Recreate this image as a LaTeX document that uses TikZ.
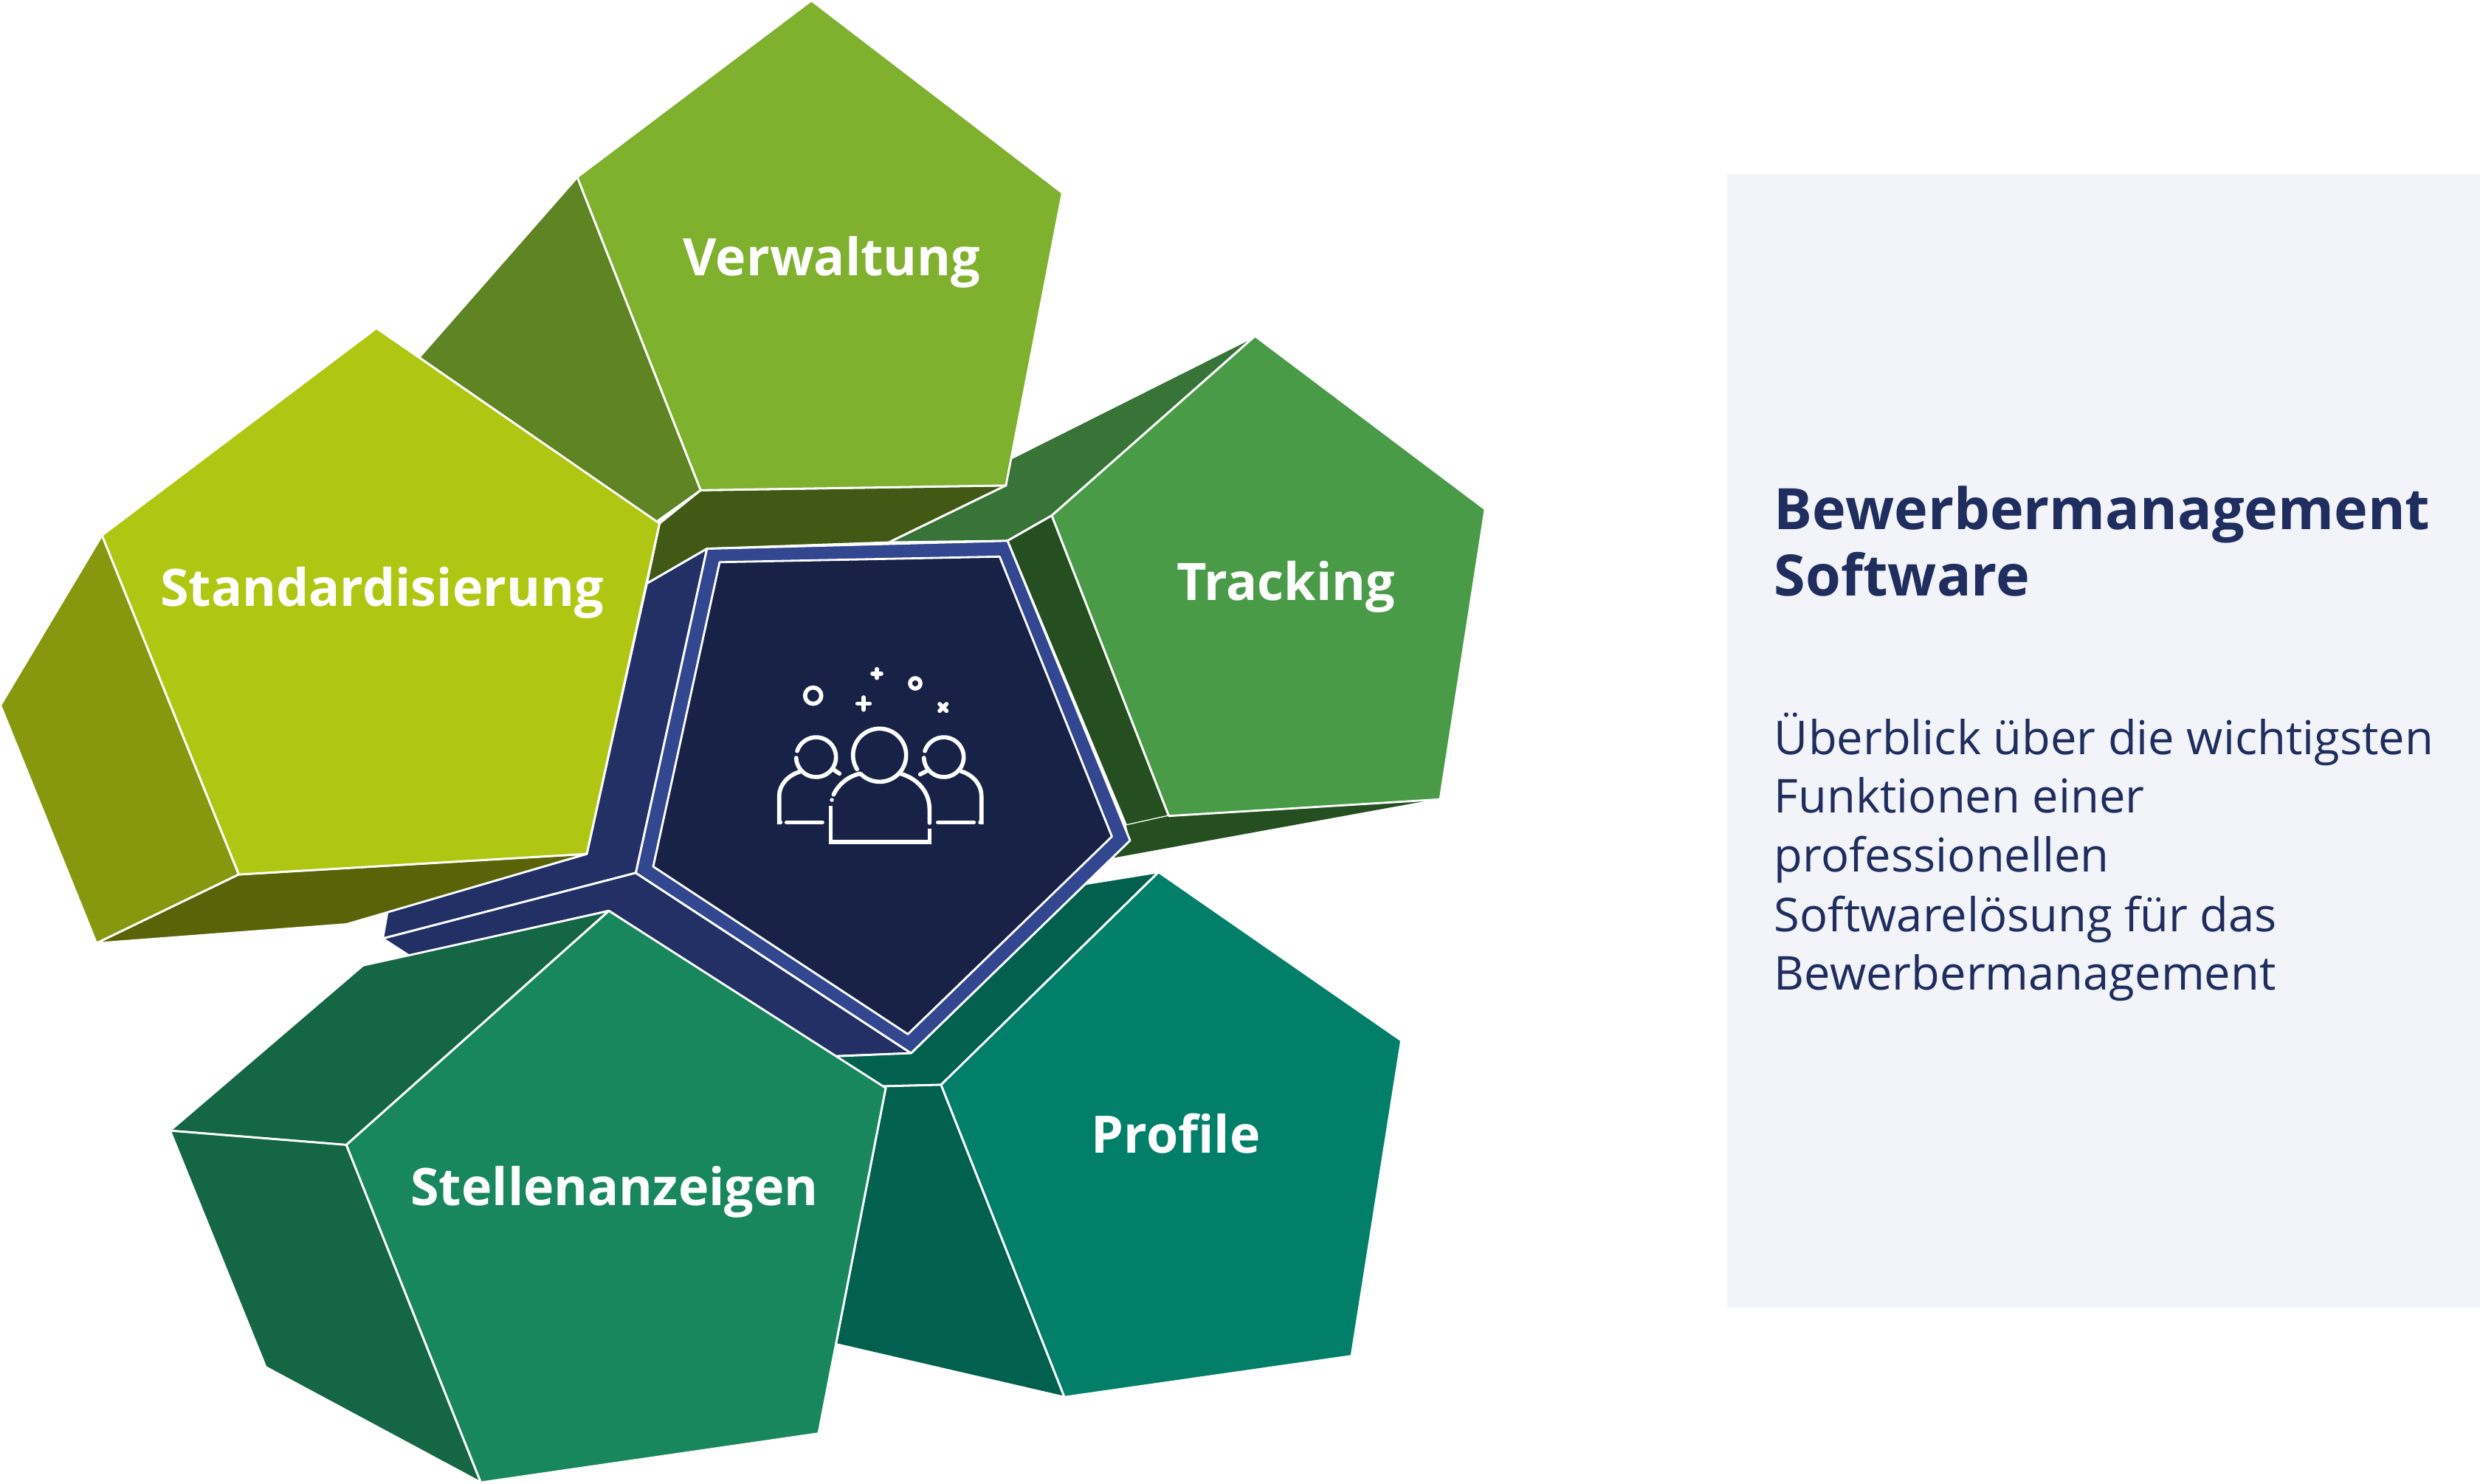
\documentclass[tikz,border=0pt]{standalone}
\usepackage{fontspec}
\setmainfont{Open Sans}
\definecolor{verwFront}{HTML}{7FB02E}
\definecolor{verwLeft}{HTML}{5F8423}
\definecolor{verwLow}{HTML}{425916}
\definecolor{stanFront}{HTML}{AFC712}
\definecolor{stanLeft}{HTML}{87980F}
\definecolor{stanLow}{HTML}{5A6308}
\definecolor{trackFront}{HTML}{4A9B48}
\definecolor{trackTop}{HTML}{387337}
\definecolor{trackLow}{HTML}{254F20}
\definecolor{stelFront}{HTML}{19875D}
\definecolor{stelSide}{HTML}{146645}
\definecolor{profFront}{HTML}{017F69}
\definecolor{profSide}{HTML}{02604F}
\definecolor{hubFront}{HTML}{182247}
\definecolor{hubRim}{HTML}{32478F}
\definecolor{hubSide}{HTML}{233066}
\definecolor{titleInk}{HTML}{1F2D5F}
\definecolor{panelBack}{HTML}{F2F4F9}
\tikzset{
  face/.style={draw=white, line width=0.8pt, line join=round},
  tilelabel/.style={text=white, font=\fontsize{19.9}{24}\selectfont\bfseries, inner sep=0pt},
  sidetext/.style={anchor=base west, text=titleInk, inner sep=0pt},
  iconline/.style={draw=white, line width=1.6pt, line cap=round}
}
\begin{document}
\begin{tikzpicture}[x=0.0214286cm, y=-0.0214286cm]
  \useasboundingbox (0,0) rectangle (1568,938.4);
  % Right panel
  \fill[panelBack] (1092,110) rectangle (1568,827);
  % Verwaltung sides
  \path[face, fill=verwLeft] (365,112) -- (443,310) -- (415,330) -- (265,226) -- cycle;
  \path[face, fill=verwLow] (443,310) -- (636,307) -- (562,343) -- (447,347) -- (409,369) -- (417,331) -- cycle;
  % Tracking sides
  \path[face, fill=trackTop] (793.5,212.5) -- (665,326) -- (637,342) -- (562,343) -- (636,307) -- (638,290.5) -- cycle;
  \path[face, fill=trackLow] (637,342) -- (665,326) -- (739,516) -- (712,522) -- cycle;
  \fill[trackLow] (739,516) -- (910,505) -- (704,542.5) -- (714.5,531.5) -- (712,522) -- cycle;
  % Hub sides
  \path[face, fill=hubSide] (447,347) -- (402,552) -- (242,593.5) -- (245,576.5) -- (371,540) -- (409,369) -- cycle;
  \path[face, fill=hubSide] (402,552) -- (576,666) -- (526,668) -- (385,576) -- (259,604.5) -- (242,593.5) -- cycle;
  % Standardisierung
  \path[face, fill=stanLeft] (64.5,338.5) -- (151,553) -- (61,596.5) -- (0.3,446) -- cycle;
  \path[face, fill=stanLow] (151,553) -- (371,540) -- (219,584.5) -- (61,596.5) -- cycle;
  \path[face, fill=stanFront] (238,207.5) -- (417,331) -- (371,540) -- (151,553) -- (64.5,338.5) -- cycle;
  % Verwaltung front
  \path[face, fill=verwFront] (513,0.3) -- (671.7,122) -- (636,307) -- (443,310) -- (365,112) -- cycle;
  % Tracking front
  \path[face, fill=trackFront] (793.5,212.5) -- (939,322) -- (910.5,505.5) -- (739,516) -- (665,326) -- cycle;
  % Profile
  \path[face, fill=profSide] (732.5,551.5) -- (595,686) -- (556,687) -- (527,668) -- (576,666) -- (686,559) -- cycle;
  \path[face, fill=profSide] (556,687) -- (595,686) -- (673,883.5) -- (528.5,850) -- (560,688) -- cycle;
  \path[face, fill=profFront] (732.5,551.5) -- (886,658) -- (854.5,857.5) -- (673,883.5) -- (595,686) -- cycle;
  % Stellenanzeigen
  \path[face, fill=stelSide] (385,576) -- (219,724) -- (107.5,715) -- (229.5,610.5) -- (259,604) -- cycle;
  \path[face, fill=stelSide] (219,724) -- (304,937.5) -- (168,864.5) -- (107.5,715) -- cycle;
  \path[face, fill=stelFront] (385,576) -- (560,688) -- (517.5,906.5) -- (304,937.5) -- (219,724) -- cycle;
  % Hub front
  \path[face, fill=hubRim] (447,347) -- (637,342) -- (714.5,531.5) -- (576,666) -- (402,552) -- cycle;
  \path[face, fill=hubFront] (455,355.5) -- (632,352) -- (703,529) -- (574,654) -- (413,548) -- cycle;
  % Icon
  \begin{scope}[shift={(420,364)}, scale=0.15556]
    \draw[iconline] (875,730) ++(148:108) arc[start angle=148, end angle=495, radius=108];
    \draw[iconline] (688,890) .. controls (710,845) and (750,815) .. (795,805);
    \draw[iconline] (960,805) .. controls (1030,825) and (1078,880) .. (1078,950) -- (1078,1005);
    \fill[white] (681,912) circle (8);
    \draw[iconline, line cap=butt] (676,935) -- (676,1083) -- (1078,1083) -- (1078,1028);
    % left person
    \draw[iconline] (617,738) ++(198:81) arc[start angle=198, end angle=538, radius=81];
    \draw[iconline] (690,790) -- (712,805);
    \draw[iconline] (552,797) .. controls (505,810) and (467,850) .. (467,895) -- (467,1003) -- (472,1003);
    \draw[iconline] (497,1003) -- (642,1003);
    % right person
    \draw[iconline] (1136,738) ++(198:81) arc[start angle=198, end angle=538, radius=81];
    \draw[iconline] (1065,795) -- (1040,808);
    \draw[iconline] (1205,795) .. controls (1255,810) and (1289,850) .. (1289,895) -- (1289,1003) -- (1284,1003);
    \draw[iconline] (1112,1003) -- (1258,1003);
    % sparks
    \draw[iconline] (605,488) circle (33);
    \draw[iconline] (1020,438) circle (21);
    \draw[iconline] (785,520) -- (835,520) (810,495) -- (810,545);
    \draw[iconline] (846,398) -- (882,398) (864,380) -- (864,416);
    \draw[iconline] (1119,522) -- (1147,550) (1147,522) -- (1119,550);
  \end{scope}
  % Labels
  \node[tilelabel] (verwaltung) at (526,166) {Verwaltung};
  \node[tilelabel] (standard) at (241.5,375) {Standardisierung};
  \node[tilelabel] (tracking) at (813,371) {Tracking};
  \node[tilelabel] (stellen) at (388.5,754) {Stellenanzeigen};
  \node[tilelabel] (profile) at (743.5,717) {Profile};
  % Panel text
  \node[sidetext, font=\fontsize{22}{26}\selectfont\bfseries] (title1) at (1121.5,335) {Bewerbermanagement};
  \node[sidetext, font=\fontsize{22}{26}\selectfont\bfseries] (title2) at (1121.5,377) {Software};
  \node[sidetext, font=\fontsize{18}{20}\selectfont] (body1) at (1121.5,477) {Überblick über die wichtigsten};
  \node[sidetext, font=\fontsize{18}{20}\selectfont] (body2) at (1121.5,514) {Funktionen einer};
  \node[sidetext, font=\fontsize{18}{20}\selectfont] (body3) at (1121.5,551.5) {professionellen};
  \node[sidetext, font=\fontsize{18}{20}\selectfont] (body4) at (1121.5,589) {Softwarelösung für das};
  \node[sidetext, font=\fontsize{18}{20}\selectfont] (body5) at (1121.5,626) {Bewerbermanagement};
\end{tikzpicture}
\end{document}
